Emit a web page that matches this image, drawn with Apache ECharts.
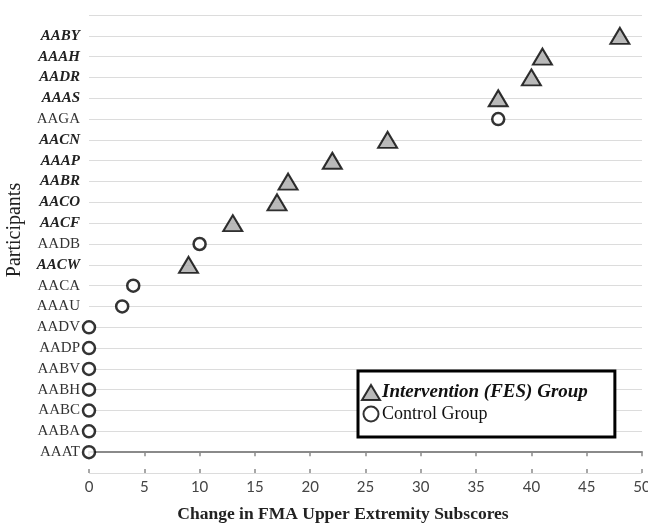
<!DOCTYPE html>
<html>
<head>
<meta charset="utf-8">
<script src="https://cdn.jsdelivr.net/npm/echarts@6/dist/echarts.min.js"></script>
<style>html,body{margin:0;padding:0;background:#fff}#c{width:648px;height:523px}</style>
</head>
<body>
<div id="c"></div>
<script>
// Participants, bottom to top
var participants = ['AAAT','AABA','AABC','AABH','AABV','AADP','AADV','AAAU','AACA','AACW','AADB','AACF','AACO','AABR','AAAP','AACN','AAGA','AAAS','AADR','AAAH','AABY'];
// I = Intervention (FES) group, C = Control group
var groups = ['C','C','C','C','C','C','C','C','C','I','C','I','I','I','I','I','C','I','I','I','I'];
// Change in FMA Upper Extremity subscores
var changes = [0,0,0,0,0,0,0,3,4,9,10,13,17,18,22,27,37,37,40,41,48];
var xTicks = [0,5,10,15,20,25,30,35,40,45,50];

var intervention = [], control = [];
participants.forEach(function(p, i){
  if (groups[i] === 'I') intervention.push([changes[i], i]);
  else control.push([changes[i], i]);
});

var chart = echarts.init(document.getElementById('c'), null, {renderer:'canvas'});
var serif = '"Liberation Serif", "DejaVu Serif", serif';
chart.setOption({
  animation: false,
  backgroundColor: '#fff',
  title: {
    text: 'Change in FMA Upper Extremity Subscores',
    left: 338, top: 500, textAlign: 'center',
    textStyle: {fontFamily: serif, fontWeight: 'bold', fontSize: 17.5, color: '#222'}
  },
  graphic: [{
    type: 'text', x: 15, y: 230, rotation: Math.PI / 2,
    style: {text: 'Participants', font: '20px ' + serif, fill: '#222', align: 'center', verticalAlign: 'middle'}
  }],
  grid: {left: 89, right: 6, top: 15, bottom: 50, containLabel: false, outerBoundsMode: 'none'},
  legend: {
    orient: 'vertical',
    left: 358, top: 371,
    padding: [12, 27, 14, 3],
    itemGap: 3,
    itemWidth: 18, itemHeight: 15,
    borderColor: '#000', borderWidth: 3,
    backgroundColor: '#fff',
    textStyle: {fontFamily: serif, fontSize: 18, color: '#111', padding: [0,0,0,-3]},
    data: [
      {name: 'Intervention (FES) Group', textStyle: {fontStyle: 'italic', fontWeight: 'bold', fontSize: 19}},
      {name: 'Control Group', textStyle: {fontSize: 18}}
    ]
  },
  xAxis: [{
    type: 'value', min: 0, max: 50, interval: 5,
    axisLine: {show: true, lineStyle: {color: '#8a8a8a', width: 2}},
    axisTick: {show: true, length: 4, lineStyle: {color: '#8a8a8a', width: 1.5}},
    axisLabel: {margin: 7, fontFamily: 'Lato, "Open Sans", sans-serif', fontSize: 15, color: '#444',
      formatter: function(v){ return xTicks.indexOf(v) >= 0 ? String(v) : ''; }},
    splitLine: {show: false}
  },{
    type: 'value', min: 0, max: 50, interval: 5, position: 'bottom',
    axisLine: {show: false},
    axisTick: {show: true, inside: true, length: 4, lineStyle: {color: '#8a8a8a', width: 1.5}},
    axisLabel: {show: false},
    splitLine: {show: false}
  }],
  yAxis: {
    type: 'value', min: -1, max: 21, interval: 1,
    axisLine: {show: false},
    axisTick: {show: false},
    splitLine: {show: true, lineStyle: {color: '#dcdcdc', width: 1.2}},
    axisLabel: {
      margin: 9,
      formatter: function(v){
        var i = Math.round(v);
        if (i < 0 || i >= participants.length) return '';
        return (groups[i] === 'I' ? '{b|' : '{n|') + participants[i] + '}';
      },
      rich: {
        b: {fontFamily: serif, fontSize: 15, fontWeight: 'bold', fontStyle: 'italic', color: '#222'},
        n: {fontFamily: serif, fontSize: 15, color: '#333'}
      }
    }
  },
  series: [{
    name: 'Intervention (FES) Group',
    type: 'scatter',
    symbol: 'triangle',
    symbolSize: [19, 16],
    itemStyle: {color: '#a8a8a8', borderColor: '#000', borderWidth: 2},
    data: intervention,
    z: 3
  },{
    name: 'Control Group',
    type: 'scatter',
    symbol: 'circle',
    symbolSize: 12,
    itemStyle: {color: '#fff', borderColor: '#000', borderWidth: 2.5},
    data: control,
    z: 3
  }]
});
</script>
</body>
</html>
